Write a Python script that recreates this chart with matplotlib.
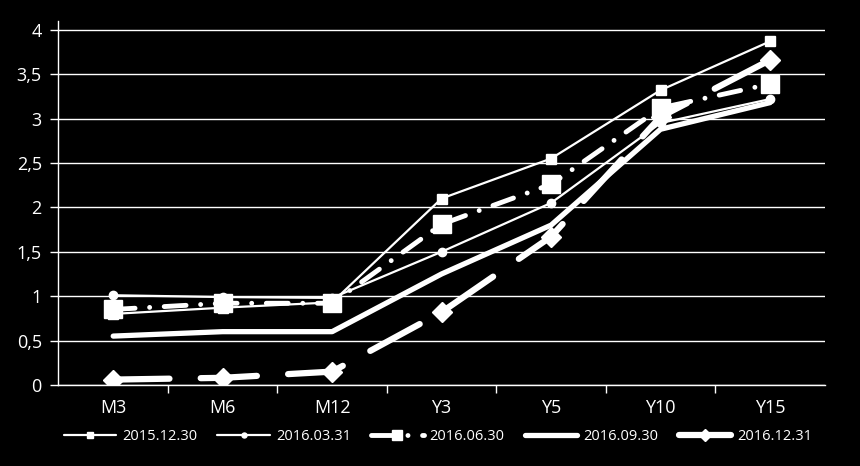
"""Yield curves at five dates, white on black"""

import matplotlib
matplotlib.use("Agg")
import matplotlib.pyplot as plt
from matplotlib.ticker import FuncFormatter

tenors = ["M3", "M6", "M12", "Y3", "Y5", "Y10", "Y15"]
dates = ["2015.12.30", "2016.03.31", "2016.06.30", "2016.09.30", "2016.12.31"]

curve_2015_12_30 = [0.80, 0.87, 0.93, 2.10, 2.55, 3.32, 3.87]
curve_2016_03_31 = [1.01, 0.99, 0.98, 1.50, 2.05, 2.95, 3.22]
curve_2016_06_30 = [0.85, 0.92, 0.92, 1.81, 2.26, 3.12, 3.39]
curve_2016_09_30 = [0.55, 0.60, 0.60, 1.25, 1.80, 2.88, 3.18]
curve_2016_12_31 = [0.06, 0.08, 0.15, 0.82, 1.67, 3.02, 3.66]

plt.rcParams["font.family"] = ["Open Sans", "DejaVu Sans"]

fig = plt.figure(figsize=(8.6, 4.66), dpi=100, facecolor="black")
ax = fig.add_axes([0.068, 0.174, 0.891, 0.781], facecolor="black")

x = list(range(len(tenors)))
styles = [
    dict(data=curve_2015_12_30, lw=1.6, ls="-", marker="s", ms=7),
    dict(data=curve_2016_03_31, lw=1.6, ls="-", marker="o", ms=6),
    dict(data=curve_2016_06_30, lw=3.5, ls=(0, (4.5, 3, 0.01, 3)), marker="s", ms=13),
    dict(data=curve_2016_09_30, lw=3.8, ls="-", marker="", ms=0),
    dict(data=curve_2016_12_31, lw=4.5, ls=(0, (9, 5)), marker="D", ms=10),
]
for label, st in zip(dates, styles):
    ax.plot(x, st["data"], color="white", lw=st["lw"], ls=st["ls"],
            marker=st["marker"], ms=st["ms"], mec="white", mfc="white",
            dash_capstyle="round", solid_capstyle="round", label=label)

ax.set_xlim(-0.5, len(tenors) - 0.5)
ax.set_ylim(0, 4.1)
ax.set_yticks([0, 0.5, 1, 1.5, 2, 2.5, 3, 3.5, 4])
ax.yaxis.set_major_formatter(FuncFormatter(lambda v, p: f"{v:g}".replace(".", ",")))
ax.grid(axis="y", color="white", lw=1.0)
ax.set_axisbelow(True)

ax.set_xticks(x)
ax.set_xticklabels(tenors)
ax.set_xticks([i + 0.5 for i in range(len(tenors) - 1)], minor=True)
ax.tick_params(axis="x", which="major", length=0, colors="white", labelsize=13, pad=10)
ax.tick_params(axis="x", which="minor", length=6, color="white", width=1.0)
ax.tick_params(axis="y", length=6, color="white", width=1.0, labelcolor="white",
               labelsize=13, pad=6)

for side in ["top", "right"]:
    ax.spines[side].set_visible(False)
for side in ["left", "bottom"]:
    ax.spines[side].set_color("white")
    ax.spines[side].set_linewidth(1.0)

leg = ax.legend(loc="upper center", bbox_to_anchor=(0.495, -0.085), ncol=5,
                frameon=False, fontsize=10.5, labelcolor="white",
                handlelength=3.6, handletextpad=0.4, columnspacing=1.4,
                markerscale=0.6)

fig.savefig("out.png", dpi=100, facecolor="black")
